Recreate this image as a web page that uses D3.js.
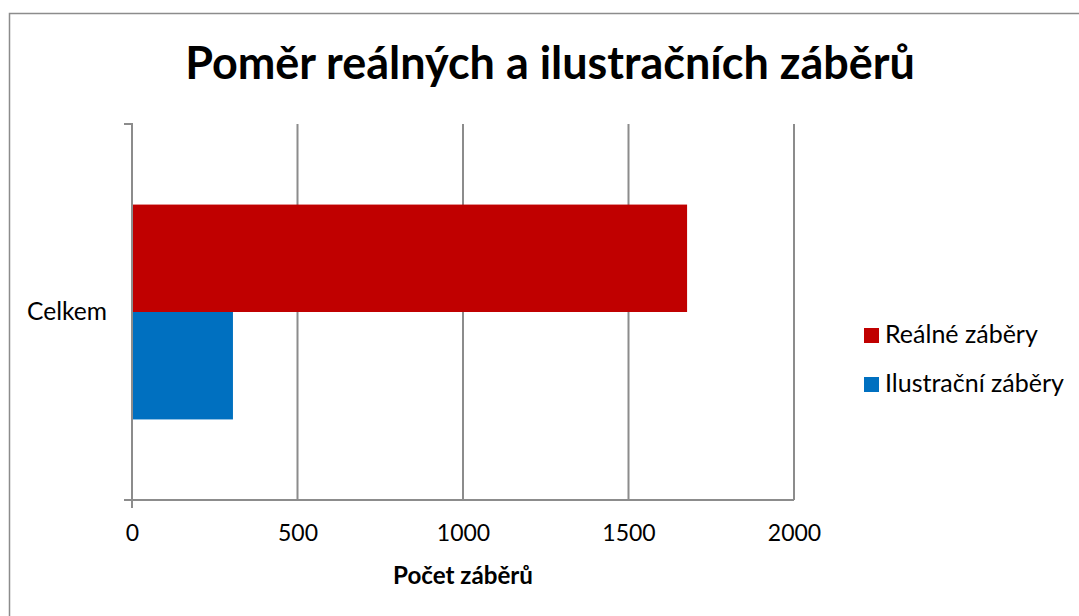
<!DOCTYPE html>
<html>
<head>
<meta charset="utf-8">
<script src="https://cdn.jsdelivr.net/npm/d3@7"></script>
<style>
  body { margin: 0; background: #fff; }
  svg { display: block; font-family: Lato, "Open Sans", sans-serif; }
</style>
</head>
<body>
<svg id="chart" width="1079" height="616"></svg>
<script>
// data
const categories = ["Celkem"];
const seriesNames = ["Reálné záběry", "Ilustrační záběry"];
const seriesColors = ["#c00000", "#0070c0"];
const realne = [1677];
const ilustracni = [305];
const xTicks = [0, 500, 1000, 1500, 2000];

const svg = d3.select("#chart");

// outer border of chart area
svg.append("rect")
    .attr("x", 9.5).attr("y", 13.5)
    .attr("width", 1200).attr("height", 700)
    .style("fill", "none").style("stroke", "#8c8c8c").style("stroke-width", 1.5);

const plotLeft = 132, plotRight = 794, plotTop = 124, plotBottom = 500;

const x = d3.scaleLinear().domain([0, 2000]).range([plotLeft, plotRight]);
const y = d3.scaleBand().domain(categories).range([plotTop, plotBottom]);
const inner = d3.scaleBand().domain(seriesNames).range([0, y.bandwidth()])
    .paddingOuter(0.75).paddingInner(0);

// fit a text element to a target width
function fit(sel, w) {
    sel.each(function() {
        const t = d3.select(this);
        const len = this.getComputedTextLength();
        const fs = parseFloat(t.style("font-size"));
        t.style("font-size", (fs * w / len) + "px");
    });
}

// gridlines
svg.append("g")
    .selectAll("line")
    .data(xTicks.slice(1))
    .join("line")
    .attr("x1", d => x(d)).attr("x2", d => x(d))
    .attr("y1", plotTop).attr("y2", plotBottom)
    .style("stroke", "#8c8c8c").style("stroke-width", 2);

// bars
const rows = categories.map((c, i) => ({ cat: c, values: [realne[i], ilustracni[i]] }));
svg.append("g")
    .selectAll("rect")
    .data(rows.flatMap(r => r.values.map((v, j) => ({ cat: r.cat, s: seriesNames[j], v: v, color: seriesColors[j] }))))
    .join("rect")
    .attr("x", x(0))
    .attr("y", d => y(d.cat) + inner(d.s))
    .attr("width", d => x(d.v) - x(0))
    .attr("height", inner.bandwidth())
    .style("fill", d => d.color);

// axes
const axisColor = "#8c8c8c";
const xAxis = svg.append("g")
    .attr("transform", `translate(0,${plotBottom})`)
    .call(d3.axisBottom(x).tickValues(xTicks).tickFormat(d3.format("d")).tickSize(0).tickPadding(25));
xAxis.select(".domain").remove();
xAxis.selectAll("text").style("font-size", "23px").style("fill", "#000").style("font-family", "Lato, sans-serif");
svg.append("line")
    .attr("x1", plotLeft - 8).attr("x2", plotRight).attr("y1", plotBottom).attr("y2", plotBottom)
    .style("stroke", axisColor).style("stroke-width", 2);

svg.append("line")
    .attr("x1", plotLeft).attr("x2", plotLeft).attr("y1", plotTop - 1).attr("y2", plotBottom + 8)
    .style("stroke", axisColor).style("stroke-width", 2);
svg.selectAll(".ytick")
    .data([plotTop, plotBottom])
    .join("line")
    .attr("x1", plotLeft - 8).attr("x2", plotLeft).attr("y1", d => d).attr("y2", d => d)
    .style("stroke", axisColor).style("stroke-width", 2);

const catLabels = svg.append("g")
    .selectAll("text")
    .data(categories)
    .join("text")
    .attr("x", 107).attr("y", d => y(d) + y.bandwidth() / 2 + 2)
    .attr("text-anchor", "end").attr("dominant-baseline", "middle")
    .style("font-size", "20px")
    .text(d => d);
fit(catLabels, 80);

const title = svg.append("text")
    .attr("x", 550).attr("y", 79)
    .attr("text-anchor", "middle")
    .style("font-size", "40px").style("font-weight", "bold")
    .text("Poměr reálných a ilustračních záběrů");
fit(title, 730);

const xLabel = svg.append("text")
    .attr("x", 463).attr("y", 584)
    .attr("text-anchor", "middle")
    .style("font-size", "20px").style("font-weight", "bold")
    .text("Počet záběrů");
fit(xLabel, 140);

// legend
const legend = svg.append("g")
    .selectAll("g")
    .data(seriesNames)
    .join("g")
    .attr("transform", (d, i) => `translate(864,${328 + i * 49})`);
legend.append("rect")
    .attr("width", 15).attr("height", 15)
    .style("fill", (d, i) => seriesColors[i]);
legend.append("text")
    .attr("x", 21).attr("y", 9)
    .attr("dominant-baseline", "middle")
    .style("font-size", "25px")
    .text(d => d);
</script>
</body>
</html>
